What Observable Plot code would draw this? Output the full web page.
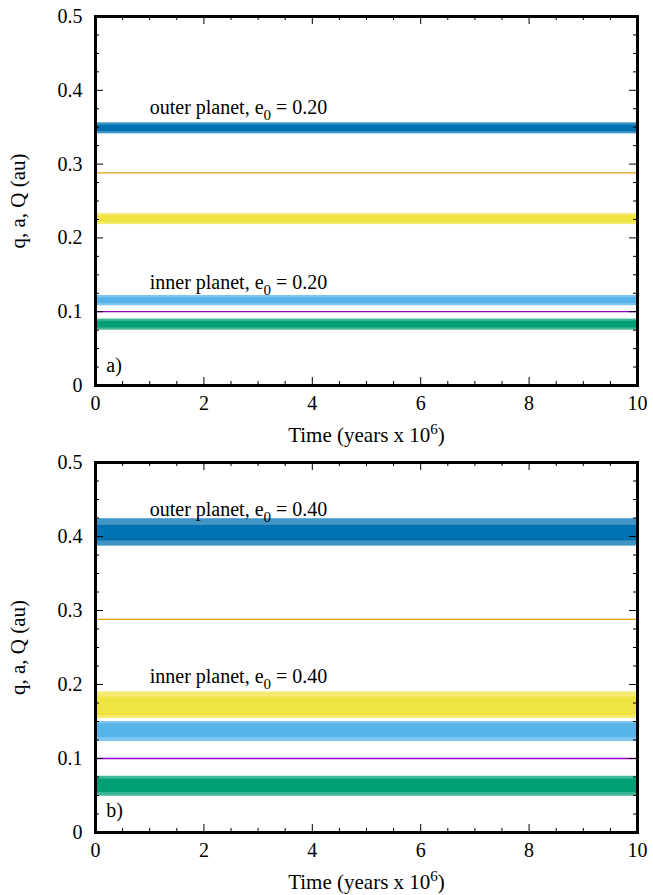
<!DOCTYPE html>
<html>
<head>
<meta charset="utf-8">
<script src="https://cdn.jsdelivr.net/npm/d3@7"></script>
<script src="https://cdn.jsdelivr.net/npm/@observablehq/plot@0.6"></script>
<style>
  html, body { margin: 0; padding: 0; background: #fff; }
  #chart { width: 653px; }
  svg { display: block; }
</style>
</head>
<body>
<div id="chart"></div>
<script>
// ---- data ----
const timeRange = [0, 10];
const series = ["outer Q", "outer a", "outer q", "inner Q", "inner a", "inner q"];
const seriesColors = ["#0072b2", "#e69f00", "#f0e442", "#56b4e9", "#9400d3", "#009e73"];

// panel a) e0 = 0.20 : full extent of oscillation and dense core
const lowA      = [0.341, 0.288, 0.218, 0.108, 0.100, 0.075];
const highA     = [0.356, 0.288, 0.233, 0.122, 0.100, 0.090];
const coreLowA  = [0.344, 0.288, 0.221, 0.111, 0.100, 0.078];
const coreHighA = [0.353, 0.288, 0.230, 0.119, 0.100, 0.087];

// panel b) e0 = 0.40
const lowB      = [0.387, 0.288, 0.154, 0.123, 0.100, 0.049];
const highB     = [0.424, 0.288, 0.190, 0.150, 0.100, 0.076];
const coreLowB  = [0.394, 0.288, 0.158, 0.128, 0.100, 0.054];
const coreHighB = [0.415, 0.288, 0.183, 0.147, 0.100, 0.072];

const panelTags = ["a)", "b)"];
const eccLabels = ["0.20", "0.40"];
const outerLabelY = [0.376, 0.437];
const innerLabelY = [0.140, 0.211];

const yMajor = [0, 0.1, 0.2, 0.3, 0.4, 0.5];
const yMinor = [0.025,0.05,0.075,0.125,0.15,0.175,0.225,0.25,0.275,0.325,0.35,0.375,0.425,0.45,0.475];
const xMajor = [0, 2, 4, 6, 8, 10];
const xMinor = [0.5,1,1.5,2.5,3,3.5,4.5,5,5.5,6.5,7,7.5,8.5,9,9.5];

const xLabel = "Time (years x 10^6)";
const yLabel = "q, a, Q (au)";

function panel(i, low, high, coreLow, coreHigh, opts) {
  const rows = series.map((s, k) => ({
    s, color: seriesColors[k], low: low[k], high: high[k], cl: coreLow[k], ch: coreHigh[k]
  }));
  const bands = rows.filter(r => r.high > r.low);
  const lines = rows.filter(r => r.high === r.low);
  const W = 653, ml = 95, mr = 16;
  const pw = W - ml - mr;
  const ph = opts.height - opts.marginTop - opts.marginBottom;
  const svg = Plot.plot({
    width: W,
    height: opts.height,
    marginLeft: ml, marginRight: mr,
    marginTop: opts.marginTop, marginBottom: opts.marginBottom,
    style: { fontFamily: "'Liberation Serif', 'DejaVu Serif', serif", fontSize: "20px", color: "#000", background: "#fff", overflow: "visible" },
    x: { domain: timeRange, axis: null },
    y: { domain: [0, 0.5], axis: null },
    marks: [
      // bands: full oscillation extent (lighter) and core (solid)
      Plot.rect(bands, { x1: timeRange[0], x2: timeRange[1], y1: "low", y2: "high", fill: "color", fillOpacity: 0.75 }),
      Plot.rect(bands, { x1: timeRange[0], x2: timeRange[1], y1: "cl", y2: "ch", fill: "color" }),
      Plot.ruleY(lines, { y: "low", stroke: "color", strokeWidth: 1.3 }),
      // annotations
      Plot.text([`outer planet, e0 = ${eccLabels[i]}`], { x: 1.0, y: outerLabelY[i], text: d => d, textAnchor: "start", fontSize: 20 }),
      Plot.text([`inner planet, e0 = ${eccLabels[i]}`], { x: 1.0, y: innerLabelY[i], text: d => d, textAnchor: "start", fontSize: 20 }),
      Plot.text([panelTags[i]], { x: 0.2, y: opts.tagY, text: d => d, textAnchor: "start", fontSize: 20 }),
      // tick labels
      Plot.axisY({ ticks: yMajor, tickSize: 0, tickPadding: 13, tickFormat: d => d === 0 ? "0" : d.toFixed(1), fontSize: 20 }),
      Plot.axisX({ ticks: xMajor, tickSize: 0, tickPadding: 10, tickFormat: d => String(d), fontSize: 20, label: null }),
      // inward ticks
      Plot.tickY(yMajor, { y: d => d, insetRight: pw - 8, strokeWidth: 1 }),
      Plot.tickY(yMajor, { y: d => d, insetLeft: pw - 8, strokeWidth: 1 }),
      Plot.tickY(yMinor, { y: d => d, insetRight: pw - 4, strokeWidth: 1 }),
      Plot.tickY(yMinor, { y: d => d, insetLeft: pw - 4, strokeWidth: 1 }),
      Plot.tickX(xMajor, { x: d => d, insetTop: ph - 8, strokeWidth: 1 }),
      Plot.tickX(xMajor, { x: d => d, insetBottom: ph - 8, strokeWidth: 1 }),
      Plot.tickX(xMinor, { x: d => d, insetTop: ph - 4, strokeWidth: 1 }),
      Plot.tickX(xMinor, { x: d => d, insetBottom: ph - 4, strokeWidth: 1 }),
      Plot.frame({ stroke: "#000", strokeWidth: 3 }),
      // axis titles
      Plot.text([xLabel], { frameAnchor: "bottom", textAnchor: "middle", lineAnchor: "middle", dy: 50, text: d => d, fontSize: 21 }),
      Plot.text([yLabel], { frameAnchor: "left", textAnchor: "middle", lineAnchor: "middle", dx: -77, rotate: -90, text: d => d, fontSize: 21 })
    ]
  });
  // subscripts / superscripts
  d3.select(svg).selectAll("text").each(function () {
    const t = this.textContent;
    const m = t.match(/^(.*e)0( = .*)$/);
    const s = t.match(/^(.*10)\^6(\))$/);
    if (m) {
      const sel = d3.select(this);
      sel.text(null);
      sel.append("tspan").text(m[1]);
      sel.append("tspan").attr("dy", 6).attr("font-size", 15).text("0");
      sel.append("tspan").attr("dy", -6).text(m[2]);
    } else if (s) {
      const sel = d3.select(this);
      sel.text(null);
      sel.append("tspan").text(s[1]);
      sel.append("tspan").attr("dy", -8).attr("font-size", 15).text("6");
      sel.append("tspan").attr("dy", 8).text(s[2]);
    }
  });
  return svg;
}

const chart = document.getElementById("chart");
chart.append(panel(0, lowA, highA, coreLowA, coreHighA, { height: 452, marginTop: 16, marginBottom: 67, tagY: 0.027 }));
chart.append(panel(1, lowB, highB, coreLowB, coreHighB, { height: 443, marginTop: 10, marginBottom: 63, tagY: 0.029 }));
</script>
</body>
</html>
